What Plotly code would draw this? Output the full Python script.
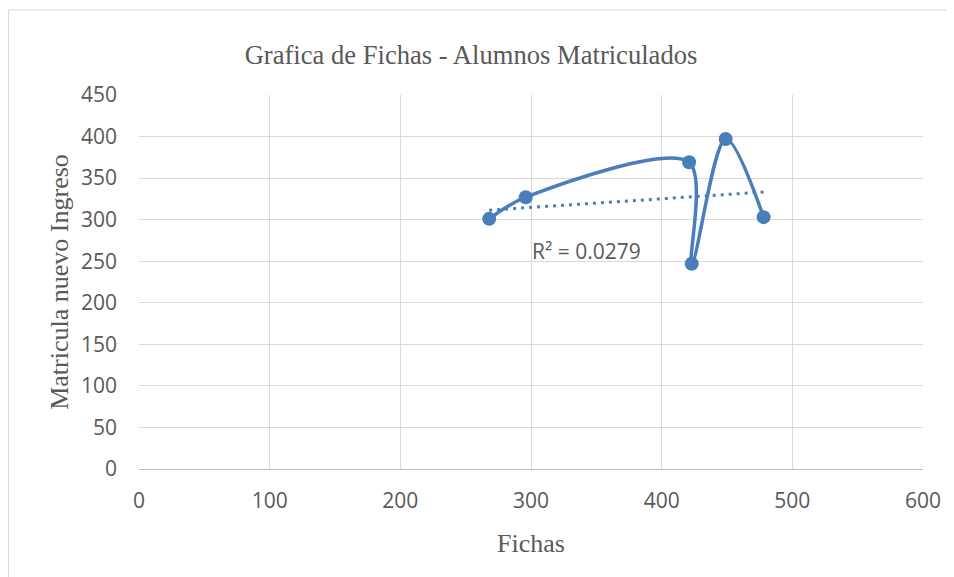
import numpy as np
import plotly.graph_objects as go

fichas = [268, 296, 421, 423, 449, 478]
matricula = [301, 327, 369, 247, 397, 303]
x_ticks = [0, 100, 200, 300, 400, 500, 600]
y_ticks = [0, 50, 100, 150, 200, 250, 300, 350, 400, 450]

title_text = "Grafica de Fichas - Alumnos Matriculados"
x_title = "Fichas"
y_title = "Matricula nuevo Ingreso"

# linear trendline from the data
slope, intercept = np.polyfit(fichas, matricula, 1)
trend_x = [min(fichas), max(fichas)]
trend_y = [slope * v + intercept for v in trend_x]
pred = np.polyval([slope, intercept], fichas)
ss_res = np.sum((np.array(matricula) - pred) ** 2)
ss_tot = np.sum((np.array(matricula) - np.mean(matricula)) ** 2)
r2 = 1 - ss_res / ss_tot

blue = "#4a7ebb"
gray_text = "#595959"
sans = "Open Sans, Liberation Sans, sans-serif"
serif = "Liberation Serif, Times New Roman, serif"

L, T, PW, PH = 131, 87, 784, 374
W, H = 954, 577

fig = go.Figure()
fig.add_trace(go.Scatter(
    x=trend_x, y=trend_y, mode="lines",
    line=dict(color=blue, width=3, dash="3px,5px"),
    hoverinfo="skip", showlegend=False,
))
fig.add_trace(go.Scatter(
    x=fichas, y=matricula, mode="lines+markers",
    line=dict(color=blue, width=3.5, shape="spline", smoothing=0.9),
    marker=dict(color=blue, size=14),
    showlegend=False,
))

fig.add_annotation(
    x=299, y=262, xref="x", yref="y", text=f"R² = {r2:.4f}",
    showarrow=False, xanchor="left", yanchor="middle",
    font=dict(family=sans, size=21, color=gray_text),
)

# chart-area border
fig.add_shape(type="rect", xref="paper", yref="paper",
              x0=(0.5 - L) / PW, x1=(W + 20 - L) / PW,
              y0=(T + PH - H - 30) / PH, y1=(T + PH - 2) / PH,
              line=dict(color="#d9d9d9", width=1), layer="below")

fig.update_layout(
    width=W, height=H,
    margin=dict(l=L, r=W - L - PW, t=T, b=H - T - PH),
    paper_bgcolor="white", plot_bgcolor="white",
    title=dict(text=title_text, x=463 / W, xanchor="center",
               y=1 - 47 / H, yanchor="middle",
               font=dict(family=serif, size=26.6, color=gray_text)),
    xaxis=dict(
        range=[0, 600], tickvals=x_ticks, ticktext=[str(v) for v in x_ticks],
        showgrid=True, gridcolor="#d9d9d9", gridwidth=1,
        zeroline=False, showline=True, linecolor="#bfbfbf", linewidth=1,
        ticks="", ticklabelstandoff=13,
        tickfont=dict(family=sans, size=21, color=gray_text),
        title=dict(text=x_title, standoff=20,
                   font=dict(family=serif, size=26, color=gray_text)),
        fixedrange=True,
    ),
    yaxis=dict(
        range=[0, 450], tickvals=y_ticks, ticktext=[str(v) for v in y_ticks],
        showgrid=True, gridcolor="#d9d9d9", gridwidth=1,
        zeroline=False, showline=False,
        ticks="", ticklabelstandoff=21,
        tickfont=dict(family=sans, size=21, color=gray_text),
        title=dict(text=y_title, standoff=4,
                   font=dict(family=serif, size=26, color=gray_text)),
        fixedrange=True,
    ),
)

fig.write_html("out.html")
